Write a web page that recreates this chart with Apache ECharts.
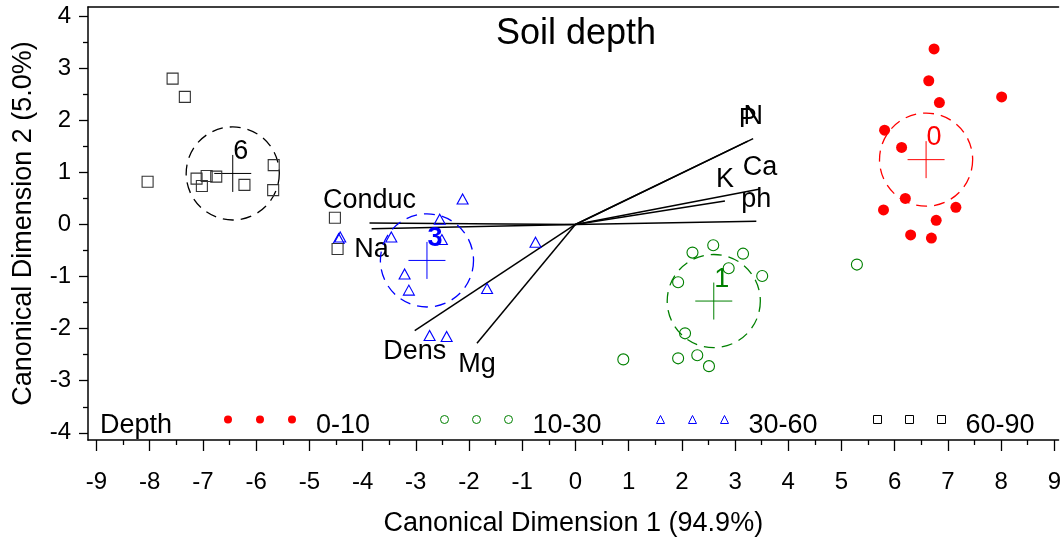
<!DOCTYPE html>
<html><head><meta charset="utf-8">
<script src="https://cdn.jsdelivr.net/npm/echarts@6/dist/echarts.min.js"></script>
<style>html,body{margin:0;padding:0;background:#fff}#c{width:1064px;height:542px}</style>
</head><body><div id="c"></div>
<script>
// ---------- data ----------
const xTicks = [-9,-8,-7,-6,-5,-4,-3,-2,-1,0,1,2,3,4,5,6,7,8,9];
const xMinorTicks = [-8.5,-7.5,-6.5,-5.5,-4.5,-3.5,-2.5,-1.5,-0.5,0.5,1.5,2.5,3.5,4.5,5.5,6.5,7.5,8.5];
const yTicks = [-4,-3,-2,-1,0,1,2,3,4];
const yMinorTicks = [-3.5,-2.5,-1.5,-0.5,0.5,1.5,2.5,3.5];

const groupNames = ['0-10','10-30','30-60','60-90'];
const groupLabels = ['0','1','3','6'];

const depth0x = [6.74,6.64,6.84,8.01,5.81,6.13,6.20,5.79,7.15,6.78,6.30,6.69];
const depth0y = [3.37,2.76,2.34,2.45,1.81,1.48,0.50,0.28,0.33,0.08,-0.20,-0.26];
const depth1x = [2.20,2.59,3.15,2.88,1.93,3.51,5.29,2.06,0.90,1.93,2.29,2.51];
const depth1y = [-0.54,-0.40,-0.56,-0.84,-1.11,-0.99,-0.77,-2.09,-2.59,-2.57,-2.51,-2.72];
const depth3x = [-2.12,-2.55,-4.45,-4.42,-3.46,-2.51,-0.75,-3.21,-3.13,-1.66,-2.74,-2.42];
const depth3y = [0.49,0.10,-0.27,-0.24,-0.24,-0.29,-0.34,-0.95,-1.26,-1.23,-2.13,-2.15];
const depth6x = [-7.57,-7.34,-8.04,-7.12,-7.02,-6.93,-6.75,-6.22,-5.67,-5.68,-4.52,-4.47];
const depth6y = [2.80,2.45,0.82,0.88,0.74,0.93,0.92,0.76,1.14,0.66,0.13,-0.47];

const centroidX = [6.59, 2.60, -2.79, -6.44];
const centroidY = [1.245, -1.47, -0.69, 0.98];
const circleRadius = [0.875, 0.875, 0.875, 0.875];

const vectorNames = ['N','P','Ca','K','ph','Conduc','Na','Dens','Mg'];
const vectorX = [3.34, 3.24, 3.47, 2.81, 3.40, -3.87, -3.83, -3.02, -1.85];
const vectorY = [1.65, 1.60, 0.68, 0.45, 0.06, 0.03, -0.08, -2.04, -2.28];

// ---------- styling ----------
const FONT = '"Liberation Sans", Arial, Helvetica, sans-serif';
const colors = ['#ff0000', '#008000', '#0000ff', '#000000'];
const labelWeights = ['normal', 'normal', 'bold', 'normal'];
const xMin = -9.16, xMax = 9.08, yMin = -4.138, yMax = 4.176;

function pts(xs, ys){ return xs.map((x,i)=>[x, ys[i]]); }

function iconPath(kind){
  const cs = [4, 36, 68];
  return 'path://' + cs.map(cx => {
    if (kind === 'circle') return `M${cx-4},4a4,4 0 1,0 8,0a4,4 0 1,0 -8,0Z`;
    if (kind === 'triangle') return `M${cx-4},8L${cx},0L${cx+4},8Z`;
    return `M${cx-4},0L${cx+4},0L${cx+4},8L${cx-4},8Z`;
  }).join('') + 'M36,20L36,20';
}

const legendLeft = [224, 440, 656, 873];
const legendIcons = ['circle','circle','triangle','rect'];
const legendStyles = [
  {color: colors[0]},
  {color: 'rgba(0,0,0,0)', borderColor: colors[1], borderWidth: 1},
  {color: 'rgba(0,0,0,0)', borderColor: colors[2], borderWidth: 1},
  {color: 'rgba(0,0,0,0)', borderColor: colors[3], borderWidth: 1}
];

const chart = echarts.init(document.getElementById('c'), null, {renderer: 'canvas'});

const axisLineStyle = {color: '#000', width: 1.5};

const option = {
  animation: false,
  backgroundColor: '#fff',
  title: {
    text: 'Soil depth', left: 496, top: 16, padding: 0,
    textStyle: {fontSize: 36, fontWeight: 'normal', fontFamily: FONT, color: '#000'}
  },
  grid: {left: 88, right: 0, top: 7, bottom: 101, containLabel: false},
  legend: groupNames.map((n, i) => ({
    data: [{name: n, icon: iconPath(legendIcons[i]), itemStyle: legendStyles[i]}],
    left: legendLeft[i], top: 412, padding: 0,
    itemWidth: 72, itemHeight: 20, selectedMode: false,
    textStyle: {fontSize: 27, fontFamily: FONT, color: '#000', padding: [0, 0, 0, 15]}
  })),
  graphic: [{
    type: 'text', x: 100, y: 426,
    style: {text: 'Depth', font: '27px ' + FONT, fill: '#000', align: 'left', verticalAlign: 'middle'}
  }],
  xAxis: [
    {
      type: 'value', min: xMin, max: xMax, position: 'bottom',
      axisLine: {show: true, onZero: false, lineStyle: axisLineStyle},
      axisTick: {show: true, customValues: xTicks, length: 11, lineStyle: {color: '#000', width: 1.3}},
      axisLabel: {customValues: xTicks, fontSize: 24, fontFamily: FONT, color: '#000', margin: 30},
      splitLine: {show: false},
      name: 'Canonical Dimension 1 (94.9%)', nameLocation: 'middle', nameGap: 70,
      nameTextStyle: {fontSize: 27, fontFamily: FONT, color: '#000'}
    },
    {
      type: 'value', min: xMin, max: xMax, position: 'bottom',
      axisLine: {show: false, onZero: false},
      axisTick: {show: true, customValues: xMinorTicks, length: 5, lineStyle: {color: '#000', width: 1.3}},
      axisLabel: {show: false}, splitLine: {show: false}
    },
    {
      type: 'value', min: xMin, max: xMax, position: 'top',
      axisLine: {show: true, onZero: false, lineStyle: axisLineStyle},
      axisTick: {show: false}, axisLabel: {show: false}, splitLine: {show: false}
    }
  ],
  yAxis: [
    {
      type: 'value', min: yMin, max: yMax, position: 'left',
      axisLine: {show: true, onZero: false, lineStyle: axisLineStyle},
      axisTick: {show: true, customValues: yTicks, length: 9, lineStyle: {color: '#000', width: 1.3}},
      axisLabel: {customValues: yTicks, fontSize: 24, fontFamily: FONT, color: '#000', margin: 17},
      splitLine: {show: false},
      name: 'Canonical Dimension 2 (5.0%)', nameLocation: 'middle', nameGap: 51, nameRotate: 90,
      nameTextStyle: {fontSize: 27, fontFamily: FONT, color: '#000'}
    },
    {
      type: 'value', min: yMin, max: yMax, position: 'left',
      axisLine: {show: false, onZero: false},
      axisTick: {show: true, customValues: yMinorTicks, length: 5, lineStyle: {color: '#000', width: 1.3}},
      axisLabel: {show: false}, splitLine: {show: false}
    }
  ],
  series: [
    {
      name: 'vectors', type: 'custom', silent: true, z: 3,
      data: vectorX.map((x, i) => [x, vectorY[i], i]),
      renderItem: (params, api) => {
        const o = api.coord([0, 0]);
        const e = api.coord([api.value(0), api.value(1)]);
        const i = api.value(2);
        const up = api.value(1) >= 0;
        return {type: 'group', children: [
          {type: 'line', shape: {x1: o[0], y1: o[1], x2: e[0], y2: e[1]}, style: {stroke: '#000', lineWidth: 1.5}},
          {type: 'text', x: e[0], y: e[1] + (up ? -22 : 21),
           style: {text: vectorNames[i], font: '27px ' + FONT, fill: '#000', align: 'center', verticalAlign: 'middle'}}
        ]};
      }
    },
    {
      name: 'groups', type: 'custom', silent: true, z: 3,
      data: centroidX.map((x, i) => [x, centroidY[i], circleRadius[i], i]),
      renderItem: (params, api) => {
        const c = api.coord([api.value(0), api.value(1)]);
        const r = api.size([api.value(2), 0])[0];
        const i = api.value(3);
        const col = colors[i];
        return {type: 'group', children: [
          {type: 'circle', shape: {cx: c[0], cy: c[1], r: r}, style: {fill: 'none', stroke: col, lineWidth: 1.3, lineDash: [11, 7]}},
          {type: 'line', shape: {x1: c[0] - 18.5, y1: c[1], x2: c[0] + 18.5, y2: c[1]}, style: {stroke: col, lineWidth: 1}},
          {type: 'line', shape: {x1: c[0], y1: c[1] - 18.5, x2: c[0], y2: c[1] + 18.5}, style: {stroke: col, lineWidth: 1}},
          {type: 'text', x: c[0] + 8, y: c[1] - 22,
           style: {text: groupLabels[i], font: labelWeights[i] + ' 27px ' + FONT, fill: col, align: 'center', verticalAlign: 'middle'}}
        ]};
      }
    },
    {
      name: groupNames[0], type: 'scatter', symbol: 'circle', symbolSize: 11, z: 4,
      itemStyle: {color: colors[0], opacity: 1}, data: pts(depth0x, depth0y)
    },
    {
      name: groupNames[1], type: 'scatter', symbol: 'circle', symbolSize: 11, z: 4,
      itemStyle: {color: 'rgba(0,0,0,0)', borderColor: colors[1], borderWidth: 1.1, opacity: 1}, data: pts(depth1x, depth1y)
    },
    {
      name: groupNames[2], type: 'scatter', symbol: 'triangle', symbolSize: [11, 10], z: 4,
      itemStyle: {color: 'rgba(0,0,0,0)', borderColor: colors[2], borderWidth: 1.1, opacity: 1}, data: pts(depth3x, depth3y)
    },
    {
      name: groupNames[3], type: 'scatter', symbol: 'rect', symbolSize: 11, z: 4,
      itemStyle: {color: 'rgba(0,0,0,0)', borderColor: '#333', borderWidth: 1.1, opacity: 1}, data: pts(depth6x, depth6y)
    }
  ]
};
chart.setOption(option);
</script>
</body></html>
